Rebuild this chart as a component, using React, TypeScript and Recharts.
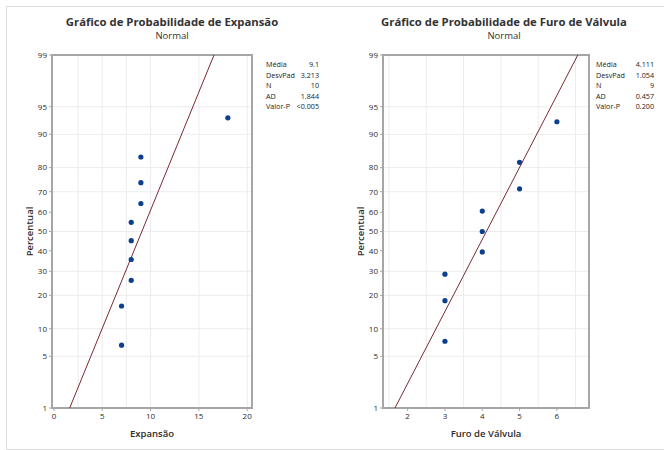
import React from 'react';
import {
    ScatterChart,
    Scatter,
    XAxis,
    YAxis,
    CartesianGrid,
    ReferenceArea,
} from 'recharts';

// percent ticks on the probability axis
const percentTicks = [1, 5, 10, 20, 30, 40, 50, 60, 70, 80, 90, 95, 99];

// Expansão
const expansaoValues = [7, 7, 8, 8, 8, 8, 9, 9, 9, 18];
const expansaoPercent = [6.7, 16.3, 26.0, 35.6, 45.2, 54.8, 64.4, 74.0, 83.7, 93.3];
const expansaoFitX = [1.63, 16.57];
const expansaoFitPercent = [1, 99];
const expansaoXTicks = [0, 5, 10, 15, 20];
const expansaoGridX = [2.5, 5, 7.5, 10, 12.5, 15, 17.5, 20];
const expansaoStats = [
    ['Média', '9.1'],
    ['DesvPad', '3.213'],
    ['N', '10'],
    ['AD', '1.844'],
    ['Valor-P', '<0.005'],
];

// Furo de Válvula
const furoValues = [3, 3, 3, 4, 4, 4, 5, 5, 6];
const furoPercent = [7.4, 18.1, 28.7, 39.4, 50.0, 60.6, 71.3, 81.9, 92.6];
const furoFitX = [1.66, 6.56];
const furoFitPercent = [1, 99];
const furoXTicks = [2, 3, 4, 5, 6];
const furoGridX = [1.5, 2, 2.5, 3, 3.5, 4, 4.5, 5, 5.5, 6, 6.5];
const furoStats = [
    ['Média', '4.111'],
    ['DesvPad', '1.054'],
    ['N', '9'],
    ['AD', '0.457'],
    ['Valor-P', '0.200'],
];

// inverse normal CDF (Acklam)
function invNorm(p: number): number {
    const a = [-39.69683028665376, 220.9460984245205, -275.9285104469687, 138.357751867269, -30.66479806614716, 2.506628277459239];
    const b = [-54.47609879822406, 161.5858368580409, -155.6989798598866, 66.80131188771972, -13.28068155288572];
    const c = [-0.007784894002430293, -0.3223964580411365, -2.400758277161838, -2.549732539343734, 4.374664141464968, 2.938163982698783];
    const d = [0.007784695709041462, 0.3224671290700398, 2.445134137142996, 3.754408661907416];
    const pl = 0.02425;
    if (p < pl) {
        const q = Math.sqrt(-2 * Math.log(p));
        return (((((c[0] * q + c[1]) * q + c[2]) * q + c[3]) * q + c[4]) * q + c[5]) /
            ((((d[0] * q + d[1]) * q + d[2]) * q + d[3]) * q + 1);
    }
    if (p > 1 - pl) {
        const q = Math.sqrt(-2 * Math.log(1 - p));
        return -(((((c[0] * q + c[1]) * q + c[2]) * q + c[3]) * q + c[4]) * q + c[5]) /
            ((((d[0] * q + d[1]) * q + d[2]) * q + d[3]) * q + 1);
    }
    const q = p - 0.5;
    const r = q * q;
    return (((((a[0] * r + a[1]) * r + a[2]) * r + a[3]) * r + a[4]) * r + a[5]) * q /
        (((((b[0] * r + b[1]) * r + b[2]) * r + b[3]) * r + b[4]) * r + 1);
}

const zTicks = percentTicks.map((p) => invNorm(p / 100));
const zDomain = [invNorm(0.01), invNorm(0.99)];
const tickLabel = (z: number) => {
    const i = zTicks.findIndex((t) => Math.abs(t - z) < 1e-6);
    return i >= 0 ? String(percentTicks[i]) : '';
};

const toPoints = (xs: number[], ps: number[]) => xs.map((x, i) => ({ x, z: invNorm(ps[i] / 100) }));

const AXIS = '#a6a6a6';
const TEXT = '#2b2b2b';

interface PlotProps {
    left: number;
    title: string;
    xLabel: string;
    values: number[];
    percents: number[];
    fitX: number[];
    fitPercent: number[];
    xDomain: [number, number];
    xTicks: number[];
    gridX: number[];
    stats: string[][];
    marginLeft: number;
    marginRight: number;
    statsX: number;
    statsRight: number;
    titleCenter: number;
}

const ProbPlot: React.FC<PlotProps> = (p) => {
    const points = toPoints(p.values, p.percents);
    const fit = toPoints(p.fitX, p.fitPercent);
    return (
        <div style={{ position: 'absolute', left: p.left, top: 0, width: 332, height: 450 }}>
            <div style={{ position: 'absolute', left: p.titleCenter - 160, width: 320, top: 14, textAlign: 'center', fontWeight: 700, fontSize: 11.3, color: '#333', lineHeight: '16px' }}>
                {p.title}
            </div>
            <div style={{ position: 'absolute', left: p.titleCenter - 160, width: 320, top: 29, textAlign: 'center', fontSize: 9.5, color: '#333', lineHeight: '13px' }}>
                Normal
            </div>
            <ScatterChart width={332} height={450} margin={{ top: 55, right: p.marginRight, left: p.marginLeft, bottom: 12 }}>
                <CartesianGrid stroke="#ececec" strokeWidth={1} horizontalValues={zTicks} verticalValues={p.gridX} />
                <XAxis
                    type="number"
                    dataKey="x"
                    domain={p.xDomain}
                    ticks={p.xTicks}
                    allowDataOverflow
                    axisLine={false}
                    tickSize={3}
                    tickLine={{ stroke: AXIS }}
                    tick={{ fill: TEXT, fontSize: 8, fontWeight: 500 }}
                    height={30}
                    label={({ viewBox }: any) => (
                        <text x={viewBox.x + viewBox.width / 2} y={viewBox.y + 29} textAnchor="middle" fontSize={9.5} fontWeight={600} fill={TEXT}>
                            {p.xLabel}
                        </text>
                    )}
                />
                <YAxis
                    type="number"
                    dataKey="z"
                    domain={zDomain}
                    ticks={zTicks}
                    allowDataOverflow
                    axisLine={false}
                    tickSize={3}
                    tickLine={{ stroke: AXIS }}
                    tick={{ fill: TEXT, fontSize: 8, fontWeight: 500 }}
                    tickFormatter={tickLabel}
                    width={30}
                    label={({ viewBox }: any) => {
                        const cx = viewBox.x + 8;
                        const cy = viewBox.y + viewBox.height / 2;
                        return (
                            <text x={cx} y={cy} transform={`rotate(-90, ${cx}, ${cy})`} textAnchor="middle" dominantBaseline="middle" fontSize={9.5} fontWeight={600} fill={TEXT}>
                                Percentual
                            </text>
                        );
                    }}
                />
                <ReferenceArea x1={p.xDomain[0]} x2={p.xDomain[1]} y1={zDomain[0]} y2={zDomain[1]} fill="none" stroke={AXIS} strokeWidth={2} />
                <Scatter data={fit} line={{ stroke: '#7a2a33', strokeWidth: 1 }} shape={() => <g />} isAnimationActive={false} />
                <Scatter data={points} fill="#0d3f8f" shape={(s: any) => <circle cx={s.cx} cy={s.cy} r={2.6} fill="#0d3f8f" />} isAnimationActive={false} />
            </ScatterChart>
            {p.stats.map(([k, v], i) => (
                <div key={k} style={{ position: 'absolute', top: 59 + i * 10.5, left: p.statsX, width: p.statsRight - p.statsX, fontSize: 7.2, color: '#222', lineHeight: '10px', display: 'flex', justifyContent: 'space-between' }}>
                    <span>{k}</span>
                    <span>{v}</span>
                </div>
            ))}
        </div>
    );
};

export default function App() {
    return (
        <div style={{ position: 'absolute', left: 0, top: 0, width: 664, height: 450, background: '#fff', fontFamily: '"Open Sans", "Noto Sans", sans-serif', overflow: 'hidden' }}>
            <div style={{ position: 'absolute', left: 6, top: 6, width: 664, height: 442, border: '1px solid #dcdcdc' }} />
            <ProbPlot
                left={0}
                title="Gráfico de Probabilidade de Expansão"
                xLabel="Expansão"
                values={expansaoValues}
                percents={expansaoPercent}
                fitX={expansaoFitX}
                fitPercent={expansaoFitPercent}
                xDomain={[-0.2, 20.5]}
                xTicks={expansaoXTicks}
                gridX={expansaoGridX}
                stats={expansaoStats}
                marginLeft={22}
                marginRight={80}
                statsX={266}
                statsRight={319}
                titleCenter={172}
            />
            <ProbPlot
                left={332}
                title="Gráfico de Probabilidade de Furo de Válvula"
                xLabel="Furo de Válvula"
                values={furoValues}
                percents={furoPercent}
                fitX={furoFitX}
                fitPercent={furoFitPercent}
                xDomain={[1.34, 6.86]}
                xTicks={furoXTicks}
                gridX={furoGridX}
                stats={furoStats}
                marginLeft={21}
                marginRight={75}
                statsX={264}
                statsRight={322}
                titleCenter={172}
            />
        </div>
    );
}
